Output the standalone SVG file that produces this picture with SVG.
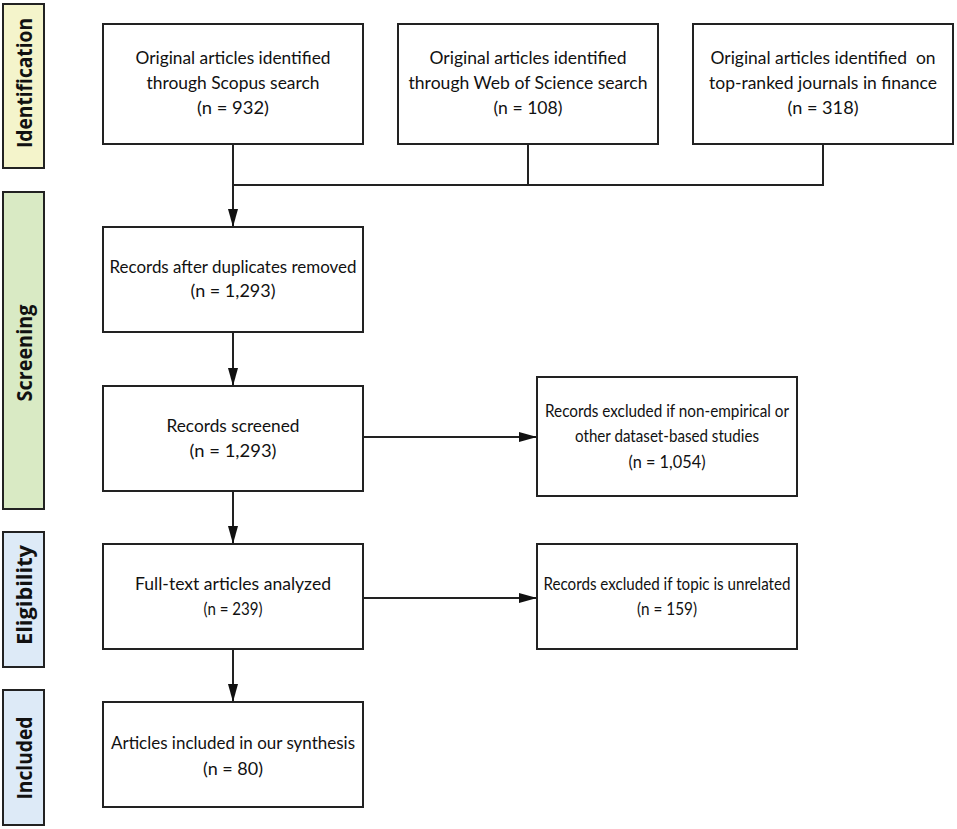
<svg xmlns="http://www.w3.org/2000/svg" width="957" height="829" viewBox="0 0 957 829">
  <style>
    .box { fill: #ffffff; stroke: #222222; stroke-width: 2; }
    .t { font-family: Lato, "Noto Sans", "DejaVu Sans", sans-serif; font-size: 18px; fill: #111111; text-anchor: middle; }
    .side { stroke: #222222; stroke-width: 2; }
    .st { font-family: "Open Sans", "Noto Sans", "DejaVu Sans", sans-serif; font-weight: 700; font-size: 22px; fill: #111111; text-anchor: middle; }
    .ln { fill: none; stroke: #222222; stroke-width: 2; }
  </style>
  <defs>
    <marker id="ah" viewBox="0 0 18 10" refX="18" refY="5" markerWidth="18" markerHeight="10" markerUnits="userSpaceOnUse" orient="auto">
      <path d="M0,0 L18,5 L0,10 Z" fill="#111111"/>
    </marker>
  </defs>
  <rect width="957" height="829" fill="#ffffff"/>

  <g id="phase-identification">
    <rect class="side" x="3" y="4" width="41" height="164" fill="#F4F4CB"/>
    <text class="st" transform="translate(32,83) rotate(-90)" textLength="130" lengthAdjust="spacingAndGlyphs">Identification</text>
  </g>
  <g id="phase-screening">
    <rect class="side" x="3" y="192" width="41" height="317" fill="#D9EAC4"/>
    <text class="st" transform="translate(32,353) rotate(-90)" textLength="97" lengthAdjust="spacingAndGlyphs">Screening</text>
  </g>
  <g id="phase-eligibility">
    <rect class="side" x="3" y="532" width="41" height="135" fill="#DDEAF7"/>
    <text class="st" transform="translate(32,595) rotate(-90)" textLength="100" lengthAdjust="spacingAndGlyphs">Eligibility</text>
  </g>
  <g id="phase-included">
    <rect class="side" x="3" y="690" width="41" height="135" fill="#DDEAF7"/>
    <text class="st" transform="translate(32,758) rotate(-90)" textLength="83" lengthAdjust="spacingAndGlyphs">Included</text>
  </g>

  <g id="connectors">
    <line class="ln" x1="233" y1="144" x2="233" y2="227" marker-end="url(#ah)"/>
    <polyline class="ln" points="233,185 823,185 823,144"/>
    <line class="ln" x1="528" y1="144" x2="528" y2="185"/>
    <line class="ln" x1="233" y1="332" x2="233" y2="386" marker-end="url(#ah)"/>
    <line class="ln" x1="233" y1="491" x2="233" y2="544" marker-end="url(#ah)"/>
    <line class="ln" x1="233" y1="649" x2="233" y2="702" marker-end="url(#ah)"/>
    <line class="ln" x1="363" y1="437" x2="537" y2="437" marker-end="url(#ah)"/>
    <line class="ln" x1="363" y1="598" x2="537" y2="598" marker-end="url(#ah)"/>
  </g>

  <g id="scopus">
    <rect class="box" x="103" y="24" width="260" height="120"/>
    <text class="t" x="233" y="64" textLength="195" lengthAdjust="spacingAndGlyphs">Original articles identified</text>
    <text class="t" x="233" y="89" textLength="173" lengthAdjust="spacingAndGlyphs">through Scopus search</text>
    <text class="t" x="233" y="114" textLength="72" lengthAdjust="spacingAndGlyphs">(n = 932)</text>
  </g>
  <g id="wos">
    <rect class="box" x="398" y="24" width="260" height="120"/>
    <text class="t" x="528" y="64" textLength="197" lengthAdjust="spacingAndGlyphs">Original articles identified</text>
    <text class="t" x="528" y="89" textLength="239" lengthAdjust="spacingAndGlyphs">through Web of Science search</text>
    <text class="t" x="528" y="114" textLength="69" lengthAdjust="spacingAndGlyphs">(n = 108)</text>
  </g>
  <g id="journals">
    <rect class="box" x="693" y="24" width="260" height="120"/>
    <text class="t" x="823" y="64" textLength="225" lengthAdjust="spacingAndGlyphs">Original articles identified&#160; on</text>
    <text class="t" x="823" y="89" textLength="228" lengthAdjust="spacingAndGlyphs">top-ranked journals in finance</text>
    <text class="t" x="823" y="114" textLength="71" lengthAdjust="spacingAndGlyphs">(n = 318)</text>
  </g>
  <g id="duplicates-removed">
    <rect class="box" x="103" y="227" width="260" height="105"/>
    <text class="t" x="233" y="273" textLength="247" lengthAdjust="spacingAndGlyphs">Records after duplicates removed</text>
    <text class="t" x="233" y="297" textLength="85" lengthAdjust="spacingAndGlyphs">(n = 1,293)</text>
  </g>
  <g id="screened">
    <rect class="box" x="103" y="386" width="260" height="105"/>
    <text class="t" x="233" y="432" textLength="133" lengthAdjust="spacingAndGlyphs">Records screened</text>
    <text class="t" x="233" y="457" textLength="87" lengthAdjust="spacingAndGlyphs">(n = 1,293)</text>
  </g>
  <g id="excluded-nonempirical">
    <rect class="box" x="537" y="377" width="260" height="119"/>
    <text class="t" x="667" y="417" textLength="244" lengthAdjust="spacingAndGlyphs">Records excluded if non-empirical or</text>
    <text class="t" x="667" y="442" textLength="184" lengthAdjust="spacingAndGlyphs">other dataset-based studies</text>
    <text class="t" x="667" y="468" textLength="77" lengthAdjust="spacingAndGlyphs">(n = 1,054)</text>
  </g>
  <g id="fulltext">
    <rect class="box" x="103" y="544" width="260" height="105"/>
    <text class="t" x="233" y="590" textLength="196" lengthAdjust="spacingAndGlyphs">Full-text articles analyzed</text>
    <text class="t" x="233" y="615" textLength="59" lengthAdjust="spacingAndGlyphs">(n = 239)</text>
  </g>
  <g id="excluded-unrelated">
    <rect class="box" x="537" y="544" width="260" height="105"/>
    <text class="t" x="667" y="590" textLength="247" lengthAdjust="spacingAndGlyphs">Records excluded if topic is unrelated</text>
    <text class="t" x="667" y="615" textLength="60" lengthAdjust="spacingAndGlyphs">(n = 159)</text>
  </g>
  <g id="included">
    <rect class="box" x="103" y="702" width="260" height="105"/>
    <text class="t" x="233" y="749" textLength="244" lengthAdjust="spacingAndGlyphs">Articles included in our synthesis</text>
    <text class="t" x="233" y="775" textLength="60" lengthAdjust="spacingAndGlyphs">(n = 80)</text>
  </g>
</svg>
